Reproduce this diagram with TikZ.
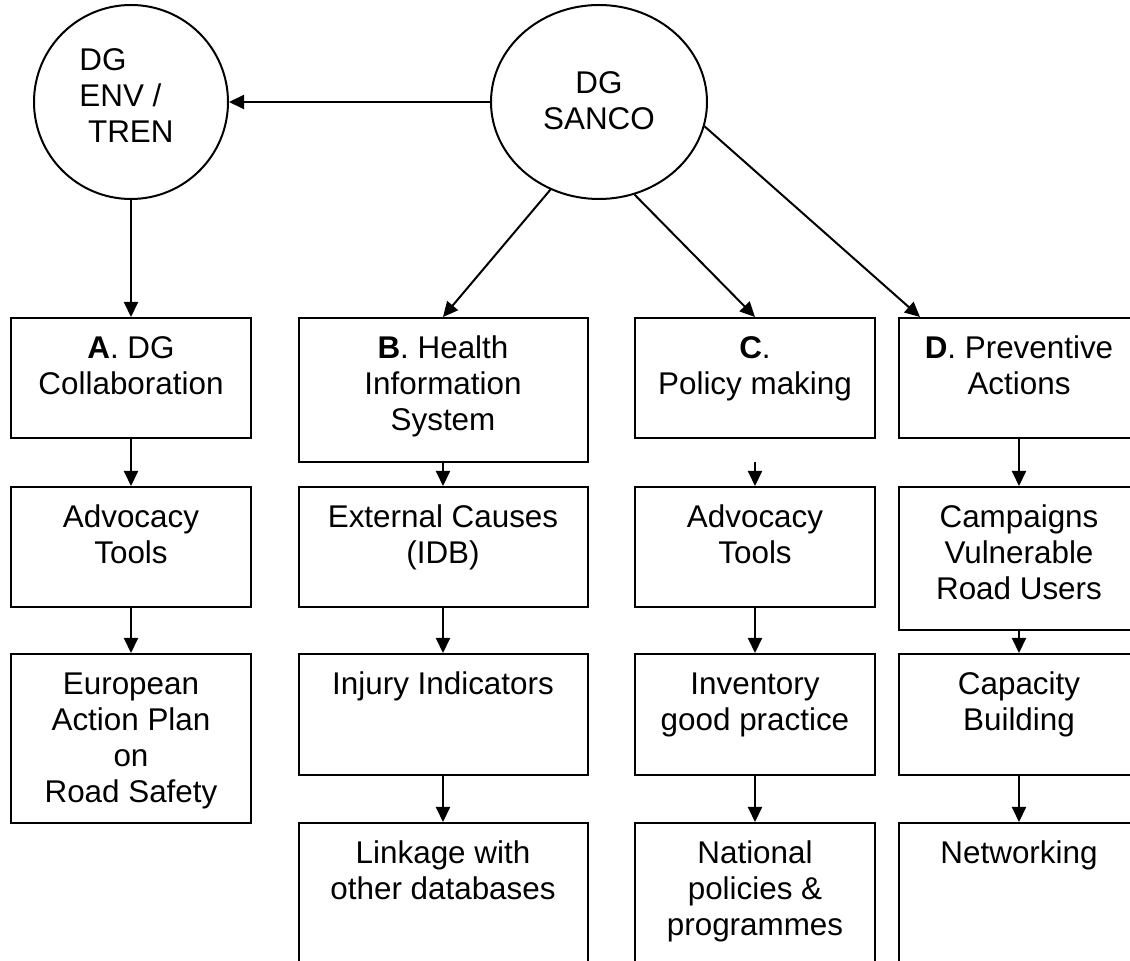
\documentclass[tikz,border=0pt]{standalone}
\usepackage{fontspec}
\setmainfont{Liberation Sans}
\usetikzlibrary{arrows.meta, shapes.geometric}

% fixes the height of the first line so every box text starts at the same depth
\newcommand\firstline{\rule{0pt}{12pt}}

\begin{document}
\begin{tikzpicture}[x=0.5pt, y=-0.5pt,
  every node/.style={font=\fontsize{15.7pt}{18pt}\selectfont},
  arr/.style={-{Triangle[length=7.5pt,width=7pt]}, line width=1pt},
  orgbox/.style={draw, line width=1pt, rectangle, inner sep=0pt, minimum width=120pt},
  widebox/.style={orgbox, minimum width=144.5pt},
  oval/.style={draw, line width=1pt, ellipse, inner sep=0pt},
  boxtext/.style={anchor=north, align=center, inner sep=0pt}
]
\useasboundingbox (0,0) rectangle (1130,961);
\clip (0,0) rectangle (1130,961);

% directorates
\node[oval, minimum width=97pt, minimum height=97pt] (env) at (131,102) {};
\node[anchor=north west, align=left, inner sep=0pt] (envtext) at (79,46)
  {\firstline DG\\ENV /\\~TREN};
\node[oval, minimum width=108pt, minimum height=97pt] (sanco) at (599,102) {};
\node[anchor=north, align=center, inner sep=0pt] (sancotext) at (599,69)
  {\firstline DG\\SANCO};

% column A
\node[orgbox, minimum height=60pt] (a1) at (131,378) {};
\node[orgbox, minimum height=60pt] (a2) at (131,547) {};
\node[orgbox, minimum height=84.5pt] (a3) at (131,738.5) {};
\node[boxtext] (a1t) at ([yshift=-8.5pt]a1.north) {\firstline\textbf{A}. DG\\Collaboration};
\node[boxtext] (a2t) at ([yshift=-8.5pt]a2.north) {\firstline Advocacy\\Tools};
\node[boxtext] (a3t) at ([yshift=-8.5pt]a3.north) {\firstline European\\Action Plan\\on\\Road Safety};

% column B
\node[widebox, minimum height=72pt] (b1) at (443,390) {};
\node[widebox, minimum height=60pt] (b2) at (443,547) {};
\node[widebox, minimum height=60.5pt] (b3) at (443,714.5) {};
\node[widebox, minimum height=84.5pt] (b4) at (443,907.5) {};
\node[boxtext] (b1t) at ([yshift=-8.5pt]b1.north) {\firstline\textbf{B}. Health\\Information\\System};
\node[boxtext] (b2t) at ([yshift=-8.5pt]b2.north) {\firstline External Causes\\(IDB)};
\node[boxtext] (b3t) at ([yshift=-8.5pt]b3.north) {\firstline Injury Indicators};
\node[boxtext] (b4t) at ([yshift=-8.5pt]b4.north) {\firstline Linkage with\\other databases};

% column C
\node[orgbox, minimum height=60pt] (c1) at (755,378) {};
\node[orgbox, minimum height=60pt] (c2) at (755,547) {};
\node[orgbox, minimum height=60.5pt] (c3) at (755,714.5) {};
\node[orgbox, minimum height=84.5pt] (c4) at (755,907.5) {};
\node[boxtext] (c1t) at ([yshift=-8.5pt]c1.north) {\firstline\textbf{C}.\\Policy making};
\node[boxtext] (c2t) at ([yshift=-8.5pt]c2.north) {\firstline Advocacy\\Tools};
\node[boxtext] (c3t) at ([yshift=-8.5pt]c3.north) {\firstline Inventory\\good practice};
\node[boxtext] (c4t) at ([yshift=-8.5pt]c4.north) {\firstline National\\policies \&\\programmes};

% column D
\node[orgbox, minimum height=60pt] (d1) at (1019,378) {};
\node[orgbox, minimum height=71.5pt] (d2) at (1019,558.5) {};
\node[orgbox, minimum height=60.5pt] (d3) at (1019,714.5) {};
\node[orgbox, minimum height=84.5pt] (d4) at (1019,907.5) {};
\node[boxtext] (d1t) at ([yshift=-8.5pt]d1.north) {\firstline\textbf{D}. Preventive\\Actions};
\node[boxtext] (d2t) at ([yshift=-8.5pt]d2.north) {\firstline Campaigns\\Vulnerable\\Road Users};
\node[boxtext] (d3t) at ([yshift=-8.5pt]d3.north) {\firstline Capacity\\Building};
\node[boxtext] (d4t) at ([yshift=-8.5pt]d4.north) {\firstline Networking};

% links from the directorates
\draw[arr] (sanco.west) -- (env.east);
\draw[arr] (env.south) -- (a1.north);
\draw[arr] (sanco.241) -- (b1.north);
\draw[arr] (sanco.291) -- (c1.north);
\draw[arr] (sanco.347) -- ([xshift=11pt]d1.north west);

% links down each column
\draw[arr] (a1.south) -- (a2.north);
\draw[arr] (a2.south) -- (a3.north);
\draw[arr] (b1.south) -- (b2.north);
\draw[arr] (b2.south) -- (b3.north);
\draw[arr] (b3.south) -- (b4.north);
\coordinate (c12) at (755,462);
\draw[arr] (c12) -- (c2.north);
\draw[arr] (c2.south) -- (c3.north);
\draw[arr] (c3.south) -- (c4.north);
\draw[arr] (d1.south) -- (d2.north);
\draw[arr] (d2.south) -- (d3.north);
\draw[arr] (d3.south) -- (d4.north);
\end{tikzpicture}
\end{document}
